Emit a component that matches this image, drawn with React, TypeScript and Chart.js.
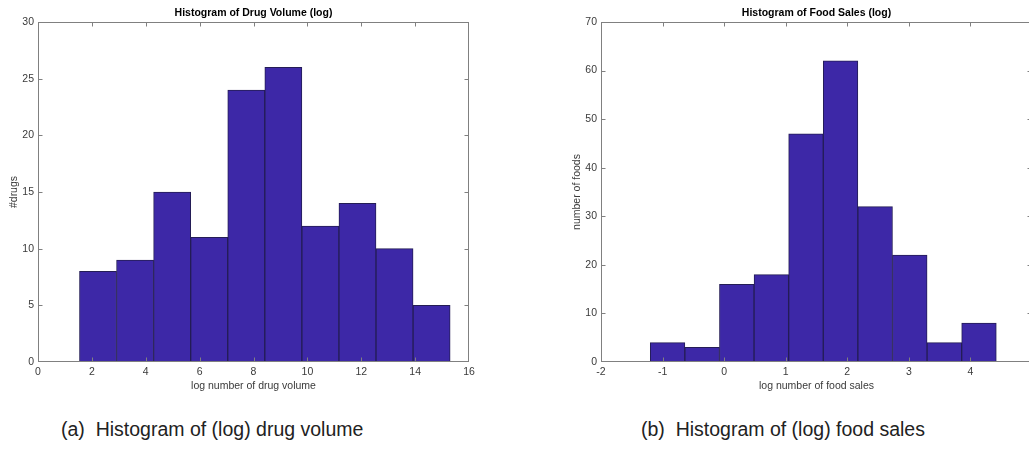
import React, { useEffect, useRef } from 'react';
import { Chart, registerables } from 'chart.js';

Chart.register(...registerables);

// ---- data ----
const drugEdges = [1.54, 2.916, 4.292, 5.668, 7.044, 8.42, 9.796, 11.172, 12.548, 13.924, 15.3];
const drugCounts = [8, 9, 15, 11, 24, 26, 12, 14, 10, 5];
const drugXTicks = [0, 2, 4, 6, 8, 10, 12, 14, 16];
const drugYTicks = [0, 5, 10, 15, 20, 25, 30];

const foodEdges = [-1.2, -0.638, -0.076, 0.486, 1.048, 1.61, 2.172, 2.734, 3.296, 3.858, 4.42];
const foodCounts = [4, 3, 16, 18, 47, 62, 32, 22, 4, 8];
const foodXTicks = [-2, -1, 0, 1, 2, 3, 4, 5];
const foodYTicks = [0, 10, 20, 30, 40, 50, 60, 70];

const FACE = '#3d28a7';
const EDGE = '#241d55';
const AXIS = '#808080';
const TEXT = '#3a3a3a';
const FAMILY = "'Liberation Sans', Arial, Helvetica, sans-serif";

const boxPlugin = {
  id: 'matlabBox',
  afterDraw(chart: any) {
    const { ctx, chartArea } = chart;
    const xs = chart.scales.x;
    const ys = chart.scales.y;
    const L = Math.round(chartArea.left) + 0.5;
    const R = Math.round(chartArea.right) - 0.5;
    const T = Math.round(chartArea.top) + 0.5;
    const B = Math.round(chartArea.bottom) - 0.5;
    const tl = 4;
    ctx.save();
    ctx.strokeStyle = AXIS;
    ctx.lineWidth = 1;
    ctx.strokeRect(L, T, R - L, B - T);
    ctx.beginPath();
    xs.ticks.forEach((t: any) => {
      const px = Math.round(xs.getPixelForValue(t.value)) + 0.5;
      if (px <= L + 1 || px >= R - 1) return;
      ctx.moveTo(px, B); ctx.lineTo(px, B - tl);
      ctx.moveTo(px, T); ctx.lineTo(px, T + tl);
    });
    ys.ticks.forEach((t: any) => {
      const py = Math.round(ys.getPixelForValue(t.value)) + 0.5;
      if (py <= T + 1 || py >= B - 1) return;
      ctx.moveTo(L, py); ctx.lineTo(L + tl, py);
      ctx.moveTo(R, py); ctx.lineTo(R - tl, py);
    });
    ctx.stroke();
    ctx.restore();
  },
};

type HistProps = {
  edges: number[];
  counts: number[];
  xTicks: number[];
  yTicks: number[];
  title: string;
  xTitle: string;
  yTitle: string;
  width: number;
  height: number;
  yAxisWidth: number;
  yTitlePad: number;
  rightPad: number;
  left: number;
};

function Histogram(p: HistProps) {
  const ref = useRef<HTMLCanvasElement>(null);
  useEffect(() => {
    if (!ref.current) return;
    const data = p.counts.map((c, i) => ({ x: (p.edges[i] + p.edges[i + 1]) / 2, y: c }));
    const tickFont = { family: FAMILY, size: 10.5 };
    const chart = new Chart(ref.current, {
      type: 'bar',
      data: {
        datasets: [
          {
            data,
            backgroundColor: FACE,
            borderColor: EDGE,
            borderWidth: 1,
            barPercentage: 1,
            categoryPercentage: 1,
            grouped: false,
          } as any,
        ],
      },
      options: {
        animation: false,
        responsive: false,
        maintainAspectRatio: false,
        devicePixelRatio: 1,
        layout: { padding: { left: 0, right: p.rightPad, top: 0, bottom: 0 } },
        plugins: {
          legend: { display: false },
          tooltip: { enabled: false },
          title: {
            display: true,
            text: p.title,
            fullSize: false,
            color: '#000',
            font: { family: FAMILY, size: 10.5, weight: 'bold' },
            padding: { top: 6.5, bottom: 2.9 },
          },
        },
        scales: {
          x: {
            type: 'linear',
            min: p.xTicks[0],
            max: p.xTicks[p.xTicks.length - 1],
            offset: false,
            grid: { display: false, drawTicks: false },
            border: { display: false },
            afterBuildTicks: (s: any) => {
              s.ticks = p.xTicks.map((v) => ({ value: v }));
            },
            afterFit: (s: any) => {
              s.height = 38;
            },
            ticks: { font: tickFont, color: TEXT, padding: 4, maxRotation: 0, autoSkip: false },
            title: {
              display: true,
              text: p.xTitle,
              color: TEXT,
              font: tickFont,
              padding: { top: 0, bottom: 7.7 },
            },
          },
          y: {
            type: 'linear',
            min: p.yTicks[0],
            max: p.yTicks[p.yTicks.length - 1],
            grid: { display: false, drawTicks: false },
            border: { display: false },
            afterBuildTicks: (s: any) => {
              s.ticks = p.yTicks.map((v) => ({ value: v }));
            },
            afterFit: (s: any) => {
              s.width = p.yAxisWidth;
            },
            ticks: { font: tickFont, color: TEXT, padding: 4, autoSkip: false },
            title: {
              display: true,
              text: p.yTitle,
              color: TEXT,
              font: tickFont,
              padding: { top: p.yTitlePad, bottom: 0 },
            },
          },
        },
      } as any,
      plugins: [boxPlugin],
    });
    return () => chart.destroy();
  }, []);
  return (
    <canvas
      ref={ref}
      width={p.width}
      height={p.height}
      style={{ position: 'absolute', left: p.left, top: 0, width: p.width, height: p.height, display: 'block' }}
    />
  );
}

const captionStyle: React.CSSProperties = {
  position: 'absolute',
  top: 418,
  fontFamily: FAMILY,
  fontSize: 19.5,
  lineHeight: '22px',
  color: '#222',
  whiteSpace: 'pre',
};

export default function App() {
  return (
    <div
      style={{
        position: 'fixed',
        left: 0,
        top: 0,
        width: 1029,
        height: 451,
        overflow: 'hidden',
        background: '#fff',
      }}
    >
      <Histogram
        edges={drugEdges}
        counts={drugCounts}
        xTicks={drugXTicks}
        yTicks={drugYTicks}
        title="Histogram of Drug Volume (log)"
        xTitle="log number of drug volume"
        yTitle="#drugs"
        width={480}
        height={400}
        yAxisWidth={38}
        yTitlePad={7.7}
        rightPad={11}
        left={0}
      />
      <Histogram
        edges={foodEdges}
        counts={foodCounts}
        xTicks={foodXTicks}
        yTicks={foodYTicks}
        title="Histogram of Food Sales (log)"
        xTitle="log number of food sales"
        yTitle="number of foods"
        width={500}
        height={400}
        yAxisWidth={61}
        yTitlePad={30.7}
        rightPad={8}
        left={540}
      />
      <div style={{ ...captionStyle, left: 61 }}>{'(a)  Histogram of (log) drug volume'}</div>
      <div style={{ ...captionStyle, left: 641 }}>{'(b)  Histogram of (log) food sales'}</div>
    </div>
  );
}
